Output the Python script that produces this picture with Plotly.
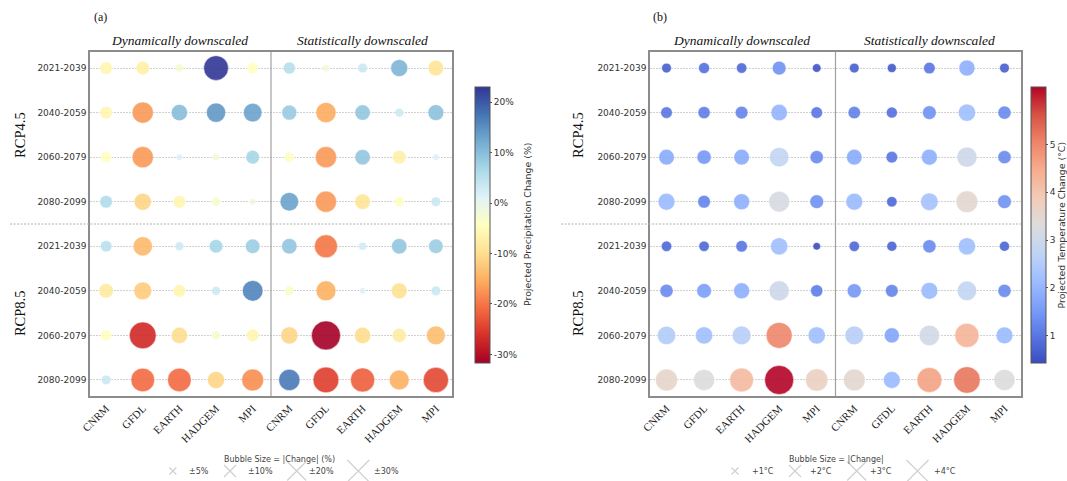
import plotly.graph_objects as go

# ---------------- data ----------------
models = ["CNRM", "GFDL", "EARTH", "HADGEM", "MPI"]
methods = ["Dynamically downscaled", "Statistically downscaled"]
periods = ["2021-2039", "2040-2059", "2060-2079", "2080-2099"]
scenarios = ["RCP4.5", "RCP8.5"]

# Projected precipitation change (%); each row: 5 dynamically then 5 statistically downscaled models
precip_rcp45 = [
    [-6.0, -7.0, -2.5, 23.0, -4.5, 5.5, -2.0, 3.5, 11.0, -9.0],
    [-6.0, -17.0, 10.0, 14.0, 13.0, 8.5, -15.5, 9.0, 3.0, 9.5],
    [-4.5, -17.0, 1.5, -2.0, 7.0, -4.0, -17.0, 9.0, -7.0, 1.5],
    [6.0, -11.0, -6.0, -3.0, -1.5, 13.0, -17.0, -9.0, -4.0, 3.5],
]
precip_rcp85 = [
    [5.0, -14.0, 3.0, 7.0, 8.0, 9.0, -20.0, 2.5, 9.0, 8.0],
    [-8.0, -12.0, -6.0, 3.0, 16.0, -3.5, -15.0, 1.5, -9.5, 3.5],
    [-4.5, -27.0, -10.0, -3.0, -6.0, -11.0, -31.7, -10.0, -7.5, -13.5],
    [3.5, -21.0, -21.0, -11.0, -18.0, 17.0, -25.0, -22.0, -15.0, -24.0],
]
# Projected temperature change (deg C)
temp_rcp45 = [
    [0.7, 0.9, 0.8, 1.4, 0.55, 0.7, 0.6, 1.0, 1.9, 0.7],
    [1.0, 1.1, 1.2, 2.0, 1.0, 1.15, 0.9, 1.4, 2.2, 1.3],
    [1.8, 1.5, 1.8, 2.8, 1.3, 1.8, 1.0, 1.9, 3.0, 1.3],
    [2.1, 1.2, 1.9, 3.2, 1.4, 2.1, 0.8, 2.3, 3.5, 1.4],
]
temp_rcp85 = [
    [0.8, 0.8, 1.0, 2.2, 0.43, 0.8, 0.75, 1.3, 2.2, 0.75],
    [1.3, 1.6, 1.9, 3.0, 1.1, 1.5, 1.2, 2.1, 2.8, 1.3],
    [2.5, 2.2, 2.6, 5.0, 2.2, 2.6, 1.7, 3.1, 4.3, 2.1],
    [3.6, 3.3, 4.2, 6.2, 3.7, 3.5, 2.1, 4.6, 5.2, 3.3],
]

precip_ticks = [-30, -20, -10, 0, 10, 20]
temp_ticks = [1, 2, 3, 4, 5]
precip_legend = ["±5%", "±10%", "±20%", "±30%"]
temp_legend = ["+1°C", "+2°C", "+3°C", "+4°C"]

# ---------------- styles / layout constants ----------------
W, H = 1067, 481
SERIF = "Liberation Serif"
SANS = "DejaVu Sans"

RDYLBU = [
    [0.0, "#a50026"], [0.1, "#d73027"], [0.2, "#f46d43"], [0.3, "#fdae61"],
    [0.4, "#fee090"], [0.5, "#ffffbf"], [0.6, "#e0f3f8"], [0.7, "#abd9e9"],
    [0.8, "#74add1"], [0.9, "#4575b4"], [1.0, "#313695"],
]
COOLWARM = [
    [0.0, "#3b4cc0"], [0.1, "#5977e3"], [0.2, "#7b9ff9"], [0.3, "#9ebeff"],
    [0.4, "#c0d4f5"], [0.5, "#dddcdc"], [0.6, "#f2cbb7"], [0.7, "#f7ac8e"],
    [0.8, "#ee8468"], [0.9, "#d65244"], [1.0, "#b40426"],
]

PANELS = [
    dict(x0=90, x1=452, cbx=475, cbtx=527, lab="(a)", labx=92, rcpx=20, dashx0=10,
         leg_title="Bubble Size = |Change| (%)", leg_tc=279.5,
         leg_mx=[172.8, 230.0, 296.7, 358.3], leg_tx=[186.7, 246.0, 306.7, 371.7]),
    dict(x0=650, x1=1021, cbx=1031, cbtx=1060.5, lab="(b)", labx=651, rcpx=578, dashx0=561,
         leg_title="Bubble Size = |Change|", leg_tc=836.7,
         leg_mx=[735.0, 795.0, 856.7, 917.5], leg_tx=[750.0, 808.0, 868.0, 931.7]),
]
Y0, Y1 = 52, 396
CB_Y0, CB_Y1 = 87, 363
LEG_SIZES = [7, 12, 19, 22]
D_MAX = 29.0


def px_x(p):
    return p / W


def px_y(p):
    return 1 - p / H


fig = go.Figure()

datasets = [
    (precip_rcp45 + precip_rcp85, RDYLBU, precip_ticks, [f"{t}%" for t in precip_ticks],
     "Projected Precipitation Change (%)", precip_legend),
    (temp_rcp45 + temp_rcp85, COOLWARM, temp_ticks, [str(t) for t in temp_ticks],
     "Projected Temperature Change (°C)", temp_legend),
]

ncol = len(models) * len(methods)
nrow = len(periods) * len(scenarios)
col_labels = models * len(methods)
row_labels = periods * len(scenarios)

annotations = []
shapes = []

for k, (rows, cscale, tvals, ttext, cbtitle, legtexts) in enumerate(datasets):
    P = PANELS[k]
    xa = "x" if k == 0 else "x2"
    ya = "y" if k == 0 else "y2"
    xs, ys, vs = [], [], []
    for r, row in enumerate(rows):
        for c, v in enumerate(row):
            xs.append(c)
            ys.append(r)
            vs.append(v)
    absmax = max(abs(v) for v in vs)
    fig.add_trace(go.Scatter(
        x=xs, y=ys, mode="markers", xaxis=xa, yaxis=ya, hoverinfo="skip",
        marker=dict(
            size=[abs(v) for v in vs], sizemode="area",
            sizeref=2.0 * absmax / D_MAX ** 2,
            color=vs, colorscale=cscale, cmin=min(vs), cmax=max(vs),
            opacity=0.9, line=dict(width=0.5, color="white"),
            colorbar=dict(
                x=px_x(P["cbx"]), xanchor="left", xpad=0, ypad=0,
                y=px_y((CB_Y0 + CB_Y1) / 2), yanchor="middle",
                len=(CB_Y1 - CB_Y0) / H, lenmode="fraction",
                thickness=15, thicknessmode="pixels",
                outlinewidth=1, outlinecolor="#555555",
                tickvals=tvals, ticktext=ttext, ticks="outside", ticklen=2,
                tickcolor="#555555",
                tickfont=dict(family=SANS, size=9, color="#333333"),
            ),
        ),
        showlegend=False,
    ))

    # colorbar title (vertical, reading bottom to top)
    annotations.append(dict(
        text=cbtitle, xref="paper", yref="paper", x=px_x(P["cbtx"]),
        y=px_y((CB_Y0 + CB_Y1) / 2), textangle=-90, showarrow=False,
        font=dict(family=SANS, size=9.4, color="#333333"),
        xanchor="center", yanchor="middle"))

    axis_common = dict(showline=True, mirror=True, linecolor="#8c8c8c", linewidth=1.5,
                       zeroline=False, ticks="", automargin=False)
    fig.update_layout({
        ("xaxis" if k == 0 else "xaxis2"): dict(
            domain=[px_x(P["x0"]), px_x(P["x1"])], range=[-0.44, ncol - 1 + 0.44],
            tickvals=list(range(ncol)), ticktext=col_labels, tickangle=-45,
            tickfont=dict(family=SERIF, size=11, color="#222222"),
            showgrid=False, anchor=ya, **axis_common),
        ("yaxis" if k == 0 else "yaxis2"): dict(
            domain=[px_y(Y1), px_y(Y0)], range=[nrow - 1 + 0.36, -0.36],
            tickvals=list(range(nrow)), ticktext=row_labels,
            tickfont=dict(family=SANS, size=9, color="#333333"),
            showgrid=True, gridcolor="#d0d0d0", gridwidth=0.8, griddash="1.5px,1.5px",
            anchor=xa, **axis_common),
    })

    # method divider (vertical) and scenario divider (horizontal dotted)
    shapes.append(dict(type="line", xref=xa, yref=f"{ya} domain",
                       x0=len(models) - 0.5, x1=len(models) - 0.5, y0=0, y1=1,
                       line=dict(color="#a0a0a0", width=1.2)))
    shapes.append(dict(type="line", xref="paper", yref=ya,
                       x0=px_x(P["dashx0"]), x1=px_x(P["x1"]),
                       y0=len(periods) - 0.5, y1=len(periods) - 0.5,
                       line=dict(color="#b0b0b0", width=1, dash="2px,1.5px")))

    # method headers
    for m, name in enumerate(methods):
        annotations.append(dict(
            text=f"<i>{name}</i>", xref=xa, yref="paper",
            x=m * len(models) + (len(models) - 1) / 2, y=px_y(41),
            showarrow=False, font=dict(family=SERIF, size=13.5, color="#111111"),
            xanchor="center", yanchor="middle"))
    # scenario labels
    for s, name in enumerate(scenarios):
        annotations.append(dict(
            text=name, xref="paper", yref=ya, x=px_x(P["rcpx"]),
            y=s * len(periods) + (len(periods) - 1) / 2, textangle=-90,
            showarrow=False, font=dict(family=SERIF, size=14.5, color="#111111"),
            xanchor="center", yanchor="middle"))
    # panel label
    annotations.append(dict(
        text=P["lab"], xref="paper", yref="paper", x=px_x(P["labx"]), y=px_y(17),
        showarrow=False, font=dict(family=SERIF, size=12, color="#111111"),
        xanchor="left", yanchor="middle"))

    # bubble-size legend
    fig.add_trace(go.Scatter(
        x=P["leg_mx"], y=[471] * len(P["leg_mx"]), mode="markers",
        xaxis="x3", yaxis="y3", hoverinfo="skip", showlegend=False, cliponaxis=False,
        marker=dict(symbol="x-thin", size=LEG_SIZES, color="#bdbdbd",
                    line=dict(width=1.2, color="#bdbdbd")),
    ))
    annotations.append(dict(
        text=P["leg_title"], xref="paper", yref="paper", x=px_x(P["leg_tc"]), y=px_y(459),
        showarrow=False, font=dict(family=SANS, size=8, color="#444444"),
        xanchor="center", yanchor="middle"))
    for tx, t in zip(P["leg_tx"], legtexts):
        annotations.append(dict(
            text=t, xref="paper", yref="paper", x=px_x(tx), y=px_y(471),
            showarrow=False, font=dict(family=SANS, size=8, color="#444444"),
            xanchor="left", yanchor="middle"))

fig.update_layout(
    width=W, height=H,
    margin=dict(l=0, r=0, t=0, b=0, pad=0, autoexpand=False),
    paper_bgcolor="white", plot_bgcolor="white",
    xaxis3=dict(domain=[0, 1], range=[0, W], visible=False, anchor="y3", automargin=False),
    yaxis3=dict(domain=[0, 40 / H], range=[H, H - 40], visible=False, anchor="x3",
                automargin=False),
    annotations=annotations,
    shapes=shapes,
    showlegend=False,
)

fig.write_html("out.html")
